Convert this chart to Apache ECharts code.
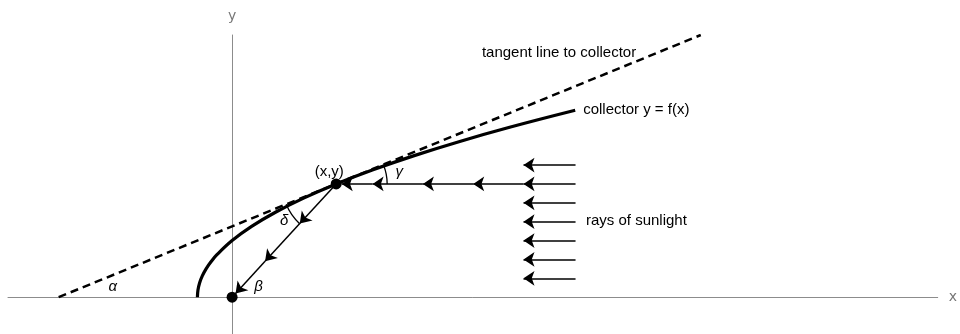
<!DOCTYPE html>
<html>
<head>
<meta charset="utf-8">
<script src="https://cdn.jsdelivr.net/npm/echarts@6/dist/echarts.min.js"></script>
<style>html,body{margin:0;padding:0;background:#fff}#c{width:960px;height:334px}</style>
</head>
<body>
<div id="c"></div>
<script>
// ---- data ----
// collector curve points (x, y)
var collectorX = [-1, -0.984, -0.9375, -0.859, -0.75, -0.609, -0.4375, 0, 0.5625, 1.25, 2.0625, 3, 4.0625, 5.25, 6.5625, 8, 9.89];
var collectorY = [0, 0.25, 0.5, 0.75, 1, 1.25, 1.5, 2, 2.5, 3, 3.5, 4, 4.5, 5, 5.5, 6, 6.6];
// tangent line end points
var tangentX = [-5, 13.51];
var tangentY = [0, 9.26];
// marked points: (x,y) on collector and focus at origin
var pointX = [3, 0];
var pointY = [4, 0];
// short incoming rays (start x, end x, heights)
var rayStartX = 9.9;
var rayEndX = 8.4;
var rayHeights = [4.667, 3.333, 2.667, 2, 1.333, 0.667];
// long ray reaching the collector, split into arrow segments
var longRayY = 4;
var longRayStops = [9.9, 8.4, 6.95, 5.5, 4.05, 3.16];
// reflected ray toward the origin, arrow segment stops
var reflX = [3, 1.95, 0.95, 0.1];
var reflY = [4, 2.6, 1.27, 0.13];
// text annotations
var labelText = ['(x,y)', 'γ', 'δ', 'α', 'β', 'tangent line to collector', 'collector y = f(x)', 'rays of sunlight'];
var labelX = [2.8, 4.82, 1.5, -3.44, 0.76, 7.2, 10.12, 10.2];
var labelY = [4.44, 4.44, 2.68, 0.35, 0.35, 8.63, 6.62, 2.68];

// ---- build option ----
var collector = collectorX.map(function (x, i) { return [x, collectorY[i]]; });
var tangent = tangentX.map(function (x, i) { return [x, tangentY[i]]; });
var points = pointX.map(function (x, i) { return [x, pointY[i]]; });

var arrowData = [];
rayHeights.forEach(function (h) {
  arrowData.push({ coords: [[rayStartX, h], [rayEndX, h]] });
});
for (var i = 0; i < longRayStops.length - 1; i++) {
  arrowData.push({ coords: [[longRayStops[i], longRayY], [longRayStops[i + 1], longRayY]] });
}
for (var j = 0; j < reflX.length - 1; j++) {
  arrowData.push({ coords: [[reflX[j], reflY[j]], [reflX[j + 1], reflY[j + 1]]] });
}

var arcs = [
  { center: [3, 4], from: [13.51, 9.26], to: [9.9, 4], r: 51 },
  { center: [3, 4], from: [0, 0], to: [-5, 0], r: 54 }
];

var labelStyles = [
  { italic: false, align: 'center' },
  { italic: true, align: 'center' },
  { italic: true, align: 'center' },
  { italic: true, align: 'center' },
  { italic: true, align: 'center' },
  { italic: false, align: 'left' },
  { italic: false, align: 'left' },
  { italic: false, align: 'left' }
];

var chart = echarts.init(document.getElementById('c'), null, { renderer: 'canvas' });
var axisGray = '#8c8c8c';
var option = {
  animation: false,
  backgroundColor: '#fff',
  grid: { left: 8, top: 35, width: 938, height: 300, containLabel: false },
  xAxis: {
    type: 'value', min: -6.46, max: 20.34,
    name: 'x', nameLocation: 'end', nameGap: 11,
    nameTextStyle: { color: '#777', fontSize: 14, fontFamily: 'DejaVu Sans', verticalAlign: 'middle' },
    axisLine: { show: true, onZero: true, lineStyle: { color: axisGray, width: 1 } },
    axisTick: { show: false }, axisLabel: { show: false }, splitLine: { show: false }
  },
  yAxis: {
    type: 'value', min: -1.3, max: 9.26,
    name: 'y', nameLocation: 'end', nameGap: 12,
    nameTextStyle: { color: '#777', fontSize: 14, fontFamily: 'DejaVu Sans', align: 'center' },
    axisLine: { show: true, onZero: true, lineStyle: { color: axisGray, width: 1 } },
    axisTick: { show: false }, axisLabel: { show: false }, splitLine: { show: false }
  },
  series: [
    {
      type: 'line', data: tangent, symbol: 'none', silent: true,
      lineStyle: { color: '#000', width: 2.5, type: [8, 5] }
    },
    {
      type: 'line', data: collector, symbol: 'none', smooth: 0.4, silent: true,
      lineStyle: { color: '#000', width: 3.2 }
    },
    {
      type: 'lines', coordinateSystem: 'cartesian2d', silent: true,
      data: arrowData,
      symbol: ['none', 'arrow'], symbolSize: [8, 11],
      lineStyle: { color: '#000', width: 1.5, opacity: 1, curveness: 0 }
    },
    {
      type: 'custom', coordinateSystem: 'cartesian2d', silent: true,
      data: arcs.map(function (a) { return a.center; }),
      renderItem: function (params, api) {
        var a = arcs[params.dataIndex];
        var c = api.coord(a.center), p1 = api.coord(a.from), p2 = api.coord(a.to);
        var s = Math.atan2(p1[1] - c[1], p1[0] - c[0]);
        var e = Math.atan2(p2[1] - c[1], p2[0] - c[0]);
        return {
          type: 'arc',
          shape: { cx: c[0], cy: c[1], r: a.r, startAngle: s, endAngle: e, clockwise: true },
          style: { stroke: '#000', lineWidth: 1.3, fill: null }
        };
      }
    },
    {
      type: 'scatter', data: points, symbol: 'circle', symbolSize: 11, silent: true,
      itemStyle: { color: '#000', opacity: 1 }, z: 5
    },
    {
      type: 'custom', coordinateSystem: 'cartesian2d', silent: true,
      data: labelX.map(function (x, i) { return [x, labelY[i]]; }),
      renderItem: function (params, api) {
        var i = params.dataIndex;
        var p = api.coord([labelX[i], labelY[i]]);
        var st = labelStyles[i];
        return {
          type: 'text', x: p[0], y: p[1],
          style: {
            text: labelText[i], fill: '#000',
            fontSize: 15, fontFamily: 'Liberation Sans, Arial, sans-serif',
            fontStyle: st.italic ? 'italic' : 'normal',
            align: st.align, verticalAlign: 'middle'
          }
        };
      }
    }
  ]
};
chart.setOption(option);
</script>
</body>
</html>
